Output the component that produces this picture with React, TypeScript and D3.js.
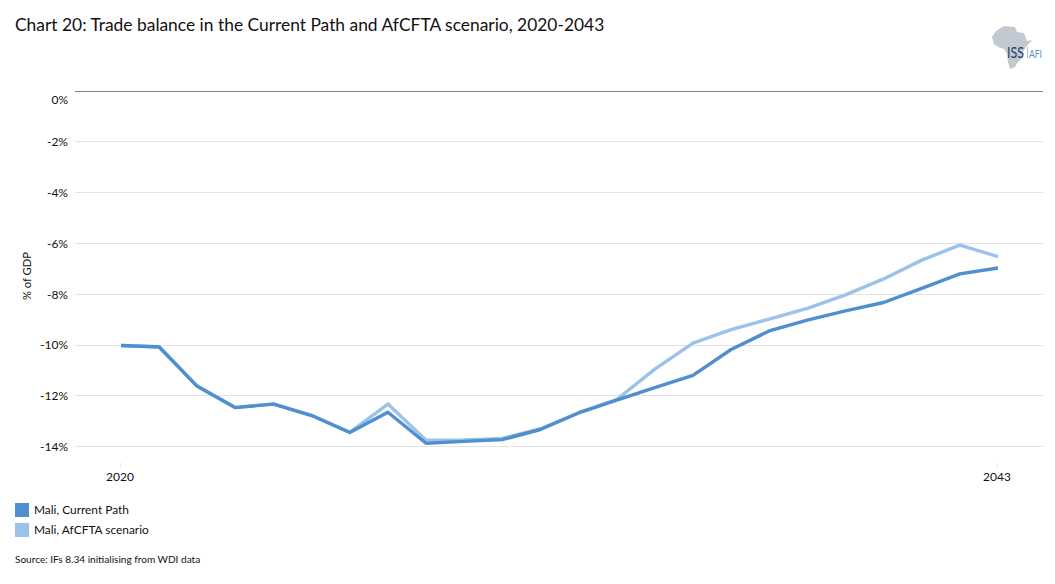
import React from 'react';
import * as d3 from 'd3';

const years = d3.range(2020, 2044);
const currentPath = [-10.02, -10.08, -11.63, -12.47, -12.33, -12.78, -13.45, -12.65, -13.87, -13.8, -13.73, -13.33, -12.68, -12.17, -11.68, -11.2, -10.18, -9.45, -9.02, -8.66, -8.33, -7.77, -7.2, -6.97];
const afcfta = [-10.02, -10.07, -11.62, -12.46, -12.32, -12.77, -13.44, -12.33, -13.75, -13.74, -13.68, -13.3, -12.67, -12.15, -10.95, -9.93, -9.4, -8.98, -8.56, -8.03, -7.4, -6.66, -6.07, -6.52];
const yTicks = [0, -2, -4, -6, -8, -10, -12, -14];
const xLabels = [2020, 2043];
const legend = [
  { label: 'Mali, Current Path', color: '#4f8fcf' },
  { label: 'Mali, AfCFTA scenario', color: '#9bc2e8' },
];

const font = 'Lato, "Open Sans", sans-serif';

const x = d3.scaleLinear().domain([2020, 2043]).range([121, 998]);
const y = d3.scaleLinear().domain([0, -14]).range([91, 446.5]);

const line = d3.line<number>()
  .x((d, i) => x(years[i]))
  .y((d) => y(d));

// keep the grid lines on one pixel row
const crisp = (v: number) => Math.round(v - 0.3) + 0.5;

// hand traced outline of the logo
const africa = 'M992,37 L996,31 L1004,26 L1015,27 L1017,32 L1024,33 L1027,41 L1032,40 L1026,47 L1023,52 L1022,58 L1018,62 L1015,67 L1010,69 L1008,62 L1007,54 L1004,49 L998,47 L994,44 Z';

export default function App() {
  return (
    <svg width={1055} height={584} style={{ position: 'absolute', left: 0, top: 0, background: '#fff' }} fontFamily={font}>
      <text x={15} y={31} fontSize={17.4} fill="#111">Chart 20: Trade balance in the Current Path and AfCFTA scenario, 2020-2043</text>

      <path d={africa} fill="#c3c9d1" />
      <text x={1007} y={58} fontSize={15} fill="#1d3f66" textLength={17} lengthAdjust="spacingAndGlyphs">ISS</text>
      <rect x={1027} y={47} width={1} height={11} fill="#9cc3e0" />
      <text x={1029} y={58} fontSize={11.2} fill="#4a94c9" textLength={13} lengthAdjust="spacingAndGlyphs">AFI</text>

      {yTicks.map((t) => (
        <g key={t}>
          <line x1={75} x2={1043} y1={crisp(y(t))} y2={crisp(y(t))} stroke={t === 0 ? '#7f7f7f' : '#e3e3e3'} strokeWidth={1} />
          {/* the 0% label sits below its line in the original */}
          <text x={68} y={y(t) + (t === 0 ? 12.5 : 4.5)} textAnchor="end" fontSize={12} fill="#111">{`${t}%`}</text>
        </g>
      ))}

      {xLabels.map((d) => (
        <g key={d}>
          <line x1={x(d) - 0.5} x2={x(d) - 0.5} y1={463} y2={467} stroke="#e3e3e3" />
          <text x={x(d) - 1} y={481} textAnchor="middle" fontSize={12} fill="#111">{d}</text>
        </g>
      ))}

      <text transform="translate(31,276) rotate(-90)" textAnchor="middle" fontSize={11.2} fill="#111">% of GDP</text>

      <path d={line(afcfta) ?? ''} fill="none" stroke={legend[1].color} strokeWidth={3.4} strokeLinejoin="round" />
      <path d={line(currentPath) ?? ''} fill="none" stroke={legend[0].color} strokeWidth={3.4} strokeLinejoin="round" />

      {legend.map((d, i) => (
        <g key={d.label}>
          <rect x={15} y={503 + i * 20} width={14} height={14} fill={d.color} />
          <text x={34} y={514 + i * 20} fontSize={11.9} fill="#111">{d.label}</text>
        </g>
      ))}

      <text x={15} y={563} fontSize={10.05} fill="#111">Source: IFs 8.34 initialising from WDI data</text>
    </svg>
  );
}
